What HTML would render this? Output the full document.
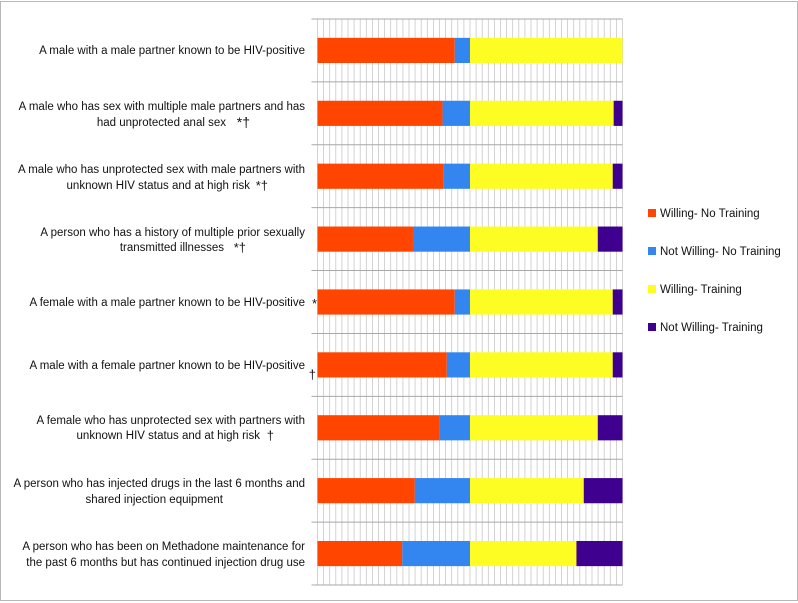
<!DOCTYPE html>
<html><head><meta charset="utf-8"><style>
body{margin:0;background:#fff;}
svg{display:block;font-family:"Liberation Sans",sans-serif;}
</style></head><body>
<svg id="chart" width="798" height="603" viewBox="0 0 798 603" xmlns="http://www.w3.org/2000/svg">
<rect x="0.5" y="1.5" width="797" height="599" fill="#fff" stroke="#b8b8b8"/>
<g id="grid"></g>
<g id="bars"></g>
<g id="labels" font-size="11.5" fill="#111" text-anchor="end">
<text x="305" y="54">A male with a male partner known to be HIV-positive</text>
<text x="305" y="110">A male who has sex with multiple male partners and has</text>
<text x="226" y="126">had unprotected anal sex</text>
<text x="250" y="127" font-size="14">*†</text>
<text x="305" y="173">A male who has unprotected sex with male partners with</text>
<text x="250" y="189">unknown HIV status and at high risk</text>
<text x="268" y="190" font-size="13">*†</text>
<text x="305" y="236">A person who has a history of multiple prior sexually</text>
<text x="224" y="251">transmitted illnesses</text>
<text x="246" y="252" font-size="13">*†</text>
<text x="305" y="306">A female with a male partner known to be HIV-positive</text>
<text x="317" y="308" font-size="13">*</text>
<text x="305" y="369">A male with a female partner known to be HIV-positive</text>
<text x="316" y="379" font-size="13">†</text>
<text x="305" y="424">A female who has unprotected sex with partners with</text>
<text x="260" y="439">unknown HIV status and at high risk</text>
<text x="274" y="440" font-size="13">†</text>
<text x="305" y="487">A person who has injected drugs in the last 6 months and</text>
<text x="223" y="503">shared injection equipment</text>
<text x="305" y="550">A person who has been on Methadone maintenance for</text>
<text x="305" y="566">the past 6 months but has continued injection drug use</text>
</g>
<g id="legend" font-size="11.5" fill="#111">
<rect x="648" y="209" width="8" height="8" fill="#ff4500"/>
<text x="660" y="217">Willing- No Training</text>
<rect x="648" y="247" width="8" height="8" fill="#3385f0"/>
<text x="660" y="255">Not Willing- No Training</text>
<rect x="648" y="285" width="8" height="8" fill="#fdfc23"/>
<text x="660" y="293">Willing- Training</text>
<rect x="648" y="323" width="8" height="8" fill="#40008f"/>
<text x="660" y="331">Not Willing- Training</text>
</g>
</svg>
<script>
const categories = ["Male w/ HIV+ male partner","Male multiple partners unprotected anal","Male unprotected unknown status","Multiple prior STIs","Female w/ HIV+ male partner","Male w/ HIV+ female partner","Female unprotected unknown status","Injected drugs shared equipment","Methadone continued injection"];
const willingNoTraining = [45, 41, 41.4, 31.3, 45, 42.4, 40.1, 31.9, 27.8];
const notWillingNoTraining = [5, 9, 8.6, 18.7, 5, 7.6, 9.9, 18.1, 22.2];
const willingTraining = [50, 47.1, 46.8, 41.9, 46.8, 46.8, 41.9, 37.3, 34.9];
const notWillingTraining = [0, 2.9, 3.2, 8.1, 3.2, 3.2, 8.1, 12.7, 15.1];
const xTicks = [0, 100];

const NS = "http://www.w3.org/2000/svg";
const X0 = 317.5, X1 = 622.5, Y0 = 19, Y1 = 585;
const xScale = v => X0 + (v - xTicks[0]) / (xTicks[1] - xTicks[0]) * (X1 - X0);
const rowH = (Y1 - Y0) / categories.length;
const yScale = i => Y0 + i * rowH;

const grid = document.getElementById('grid');
function line(x1,y1,x2,y2,c,w){const l=document.createElementNS(NS,'line');l.setAttribute('x1',x1);l.setAttribute('y1',y1);l.setAttribute('x2',x2);l.setAttribute('y2',y2);l.setAttribute('stroke',c);l.setAttribute('stroke-width',w);grid.appendChild(l);return l;}
for (let v = 0; v <= 100; v += 2) {
  const l = line(xScale(v), Y0, xScale(v), Y1, '#c8c8c8', 0.8);
  
  
}
for (let i = 0; i <= categories.length; i++) {
  const l = line(X0 - 6, yScale(i), X1, yScale(i), '#a8a8a8', 1);
  
  
}
const bars = document.getElementById('bars');
const series = [[willingNoTraining,'#ff4500','willing-no-training'],[notWillingNoTraining,'#3385f0','not-willing-no-training'],[willingTraining,'#fdfc23','willing-training'],[notWillingTraining,'#40008f','not-willing-training']];
categories.forEach((c, i) => {
  let acc = 0;
  const y = yScale(i) + rowH * 0.3;
  series.forEach(([arr, col, nm]) => {
    const v = arr[i];
    const r = document.createElementNS(NS, 'rect');
    r.setAttribute('x', xScale(acc));
    r.setAttribute('width', Math.max(0, xScale(acc + v) - xScale(acc)));
    r.setAttribute('y', y);
    r.setAttribute('height', rowH * 0.4);
    r.setAttribute('fill', col);
    
    
    bars.appendChild(r);
    acc += v;
  });
});
</script>
</body></html>
